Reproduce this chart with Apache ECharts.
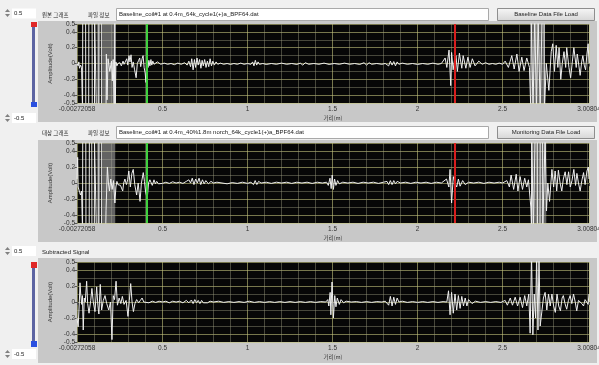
<!DOCTYPE html>
<html><head><meta charset="utf-8">
<script src="https://cdn.jsdelivr.net/npm/echarts@6/dist/echarts.min.js"></script>
<style>html,body{margin:0;padding:0;background:#f0f0f0}#c{width:599px;height:365px}</style>
</head><body><div id="c"></div><script>
// ---------- data ----------
const xTickValues = [-0.00272058, 0.5, 1, 1.5, 2, 2.5, 3.00804];
const xTickLabels = ['-0.00272058', '0.5', '1', '1.5', '2', '2.5', '3.00804'];
const xMinorValues = [0.1,0.2,0.3,0.4,0.6,0.7,0.8,0.9,1.1,1.2,1.3,1.4,1.6,1.7,1.8,1.9,2.1,2.2,2.3,2.4,2.6,2.7,2.8,2.9,3.0];
const yTickValues = [-0.5, -0.4, -0.2, 0, 0.2, 0.4, 0.5];
const yTickLabels = ['-0.5', '-0.4', '-0.2', '0', '0.2', '0.4', '0.5'];
const yMinorValues = [-0.3, -0.1, 0.1, 0.3];
const cursorX = [0.415, 2.22];
const baselineBands = [[0.113, 0.132], [0.14, 0.222], [2.672, 2.748]];
const monitoringBands = [[0.113, 0.132], [0.14, 0.222], [2.668, 2.757]];

const baselineSignal = [
[-0.0027,0],[0.004,-0.03],[0.008,0.02],[0.012,-0.06],[0.018,-0.02],[0.024,-0.05],
[0.03,-0.6],[0.031,0.6],[0.048,0.6],[0.049,-0.6],[0.066,-0.6],[0.067,0.6],[0.086,0.6],[0.087,-0.6],
[0.1,-0.6],[0.101,0.6],[0.11,0.6],[0.111,-0.6],[0.125,-0.6],[0.126,0.6],[0.14,0.6],[0.141,-0.6],
[0.168,-0.6],[0.17,0.12],[0.174,-0.46],[0.18,0.06],[0.19,-0.1],[0.2,0.03],[0.205,-0.22],[0.21,0.05],
[0.216,-0.6],[0.22,0.6],[0.222,-0.6],[0.226,0.02],[0.232,-0.03],[0.238,0.0],
[0.244,-0.02],[0.25,0.01],[0.258,-0.03],[0.268,0.03],[0.274,-0.01],[0.281,0.02],[0.29,0.06],[0.296,-0.02],
[0.303,0.1],[0.309,0.02],[0.315,0.11],[0.321,-0.05],[0.328,0.02],[0.336,-0.08],[0.345,-0.18],[0.352,0.0],
[0.36,0.04],[0.366,0.07],[0.372,-0.04],[0.38,0.06],[0.386,0.1],[0.392,-0.05],[0.398,-0.12],[0.403,-0.24],
[0.409,0.05],[0.415,-0.05],[0.42,0.04],[0.426,-0.03],[0.432,0.05],[0.437,-0.02],[0.443,0.03],[0.45,-0.01],
[0.46,0.01],[0.47,0.02],[0.475,0.045],[0.48,0.0],[0.49,-0.01],[0.51,0.005],[0.53,-0.01],[0.55,0.0],
[0.57,-0.015],[0.59,0.005],[0.61,-0.01],[0.63,0.01],[0.645,-0.02],[0.655,0.03],[0.665,-0.04],[0.672,0.06],
[0.68,-0.08],[0.688,0.05],[0.695,-0.05],[0.703,0.07],[0.71,-0.02],[0.718,0.05],[0.726,-0.06],[0.733,0.04],
[0.74,-0.03],[0.748,0.05],[0.756,-0.05],[0.764,0.03],[0.772,-0.04],[0.78,0.06],[0.788,-0.03],[0.796,0.03],
[0.805,-0.02],[0.815,0.02],[0.825,-0.01],[0.84,0.005],[0.86,-0.01],[0.88,0.0],[0.9,-0.012],[0.92,0.0],
[0.94,-0.01],[0.96,0.005],[0.98,-0.01],[1.0,0.0],[1.02,-0.01],[1.03,0.02],[1.038,-0.03],[1.046,0.04],
[1.054,-0.02],[1.062,0.02],[1.07,-0.01],[1.09,0.0],[1.11,-0.012],[1.14,0.0],[1.17,-0.01],[1.2,0.005],
[1.23,-0.01],[1.26,0.0],[1.29,-0.012],[1.31,0.005],[1.325,-0.02],[1.34,0.01],[1.36,-0.01],[1.39,0.0],
[1.42,-0.01],[1.45,0.005],[1.48,-0.012],[1.51,0.0],[1.54,-0.01],[1.57,0.005],[1.6,-0.01],[1.63,0.0],
[1.66,-0.012],[1.685,0.01],[1.7,-0.02],[1.715,0.01],[1.73,-0.01],[1.76,0.0],[1.79,-0.01],[1.81,0.0],
[1.82,0.02],[1.83,-0.03],[1.84,0.03],[1.85,-0.02],[1.86,0.025],[1.87,-0.03],[1.88,0.02],[1.89,-0.01],
[1.91,0.005],[1.94,-0.01],[1.97,0.0],[2.0,-0.012],[2.03,0.0],[2.06,-0.01],[2.09,0.005],[2.12,-0.01],[2.14,0.0],
[2.15,0.0],[2.162,0.07],[2.172,-0.05],[2.185,0.17],[2.195,-0.28],[2.2,0.14],[2.209,-0.08],[2.217,0.04],
[2.226,0.1],[2.234,-0.1],[2.246,0.13],[2.26,-0.06],[2.268,0.1],[2.284,-0.06],[2.296,0.08],[2.309,-0.05],
[2.322,0.06],[2.338,-0.03],[2.36,0.03],[2.38,-0.01],[2.4,0.01],[2.42,-0.01],[2.44,0.0],[2.46,-0.01],
[2.48,0.005],[2.5,-0.01],[2.515,0.03],[2.534,-0.05],[2.554,0.1],[2.568,-0.07],[2.584,0.12],[2.597,-0.1],
[2.613,0.08],[2.626,-0.09],[2.642,0.07],[2.658,-0.05],
[2.666,-0.6],[2.668,0.6],[2.678,0.6],[2.679,-0.6],[2.688,-0.6],[2.689,0.6],[2.698,0.6],[2.699,-0.6],
[2.708,-0.6],[2.709,0.6],[2.72,0.6],[2.721,-0.6],[2.731,-0.6],[2.732,0.6],[2.744,0.6],[2.746,-0.6],
[2.757,0.0],[2.772,-0.34],[2.786,0.15],[2.795,0.25],[2.805,-0.1],[2.815,0.23],[2.825,-0.05],[2.832,0.2],
[2.842,-0.2],[2.851,0.0],[2.861,0.15],[2.871,-0.05],[2.877,0.2],[2.89,-0.05],[2.9,-0.18],[2.91,0.02],
[2.919,0.2],[2.933,-0.05],[2.939,0.12],[2.948,-0.02],[2.956,-0.15],[2.965,0.02],[2.972,0.1],[2.98,-0.02],
[2.988,-0.08],[2.996,0.12],[3.003,0.25],[3.008,0.0]
];

const monitoringSignal = [
[-0.0027,0.05],[0.001,0.32],[0.004,-0.05],[0.008,-0.04],[0.013,-0.12],[0.018,-0.15],[0.024,-0.1],
[0.03,-0.6],[0.031,0.6],[0.049,0.6],[0.05,-0.6],[0.069,-0.6],[0.07,0.6],[0.084,0.6],[0.085,-0.6],
[0.099,-0.6],[0.1,0.6],[0.11,0.6],[0.111,-0.6],[0.125,-0.6],[0.126,0.6],[0.14,0.6],[0.141,-0.6],
[0.166,-0.6],[0.168,-0.34],[0.176,0.2],[0.182,0.0],[0.188,-0.1],[0.196,0.05],[0.204,-0.08],[0.212,0.03],
[0.22,-0.25],[0.226,-0.05],[0.232,0.02],[0.238,-0.02],[0.243,0.0],[0.253,-0.03],[0.266,-0.1],[0.272,0.0],
[0.279,0.05],[0.288,-0.02],[0.295,0.04],[0.302,0.15],[0.311,-0.05],[0.32,0.12],[0.328,0.17],[0.337,-0.02],
[0.348,-0.15],[0.357,0.0],[0.368,-0.23],[0.376,0.0],[0.387,0.13],[0.394,0.02],[0.4,-0.1],[0.41,-0.2],
[0.418,0.0],[0.426,0.04],[0.432,0.05],[0.44,-0.03],[0.45,0.04],[0.458,-0.01],[0.466,0.02],[0.476,-0.01],
[0.486,0.01],[0.5,-0.005],[0.52,0.01],[0.54,-0.005],[0.56,0.015],[0.58,0.0],[0.6,0.01],[0.62,-0.005],
[0.64,0.02],[0.655,0.04],[0.665,0.0],[0.675,0.06],[0.685,-0.02],[0.695,0.05],[0.705,0.0],[0.715,0.06],
[0.725,-0.02],[0.735,0.04],[0.745,-0.01],[0.755,0.03],[0.77,-0.01],[0.785,0.02],[0.8,0.0],[0.82,0.01],
[0.85,0.0],[0.88,-0.01],[0.91,0.005],[0.94,-0.005],[0.97,0.01],[1.0,-0.005],[1.02,0.01],[1.035,-0.02],
[1.045,0.03],[1.055,-0.02],[1.065,0.02],[1.08,0.0],[1.11,0.01],[1.14,-0.005],[1.17,0.01],[1.2,0.0],
[1.23,0.01],[1.26,-0.005],[1.29,0.01],[1.32,0.0],[1.35,0.01],[1.38,-0.005],[1.41,0.01],[1.44,0.0],
[1.465,0.01],[1.475,-0.03],[1.485,0.06],[1.492,-0.07],[1.498,0.1],[1.505,-0.08],[1.512,0.05],[1.52,-0.03],
[1.53,0.03],[1.54,-0.01],[1.56,0.01],[1.59,0.0],[1.62,0.01],[1.65,-0.005],[1.68,0.01],[1.71,0.0],
[1.74,0.01],[1.77,-0.005],[1.8,0.01],[1.82,0.02],[1.83,-0.02],[1.84,0.03],[1.85,-0.02],[1.86,0.03],
[1.87,-0.01],[1.88,0.02],[1.9,0.0],[1.93,0.01],[1.96,-0.005],[1.99,0.01],[2.02,0.0],[2.05,0.01],
[2.08,-0.005],[2.11,0.01],[2.14,0.0],[2.15,0.0],[2.17,0.05],[2.184,-0.05],[2.191,0.17],[2.2,-0.25],
[2.21,0.08],[2.22,0.0],[2.23,-0.05],[2.24,0.05],[2.25,-0.04],[2.265,0.03],[2.28,-0.02],[2.3,0.01],
[2.33,0.0],[2.36,0.01],[2.39,-0.005],[2.42,0.01],[2.45,0.0],[2.48,0.01],[2.5,0.0],[2.525,0.03],
[2.54,-0.05],[2.55,0.1],[2.565,-0.08],[2.58,0.11],[2.59,-0.1],[2.603,0.08],[2.617,-0.08],[2.63,0.06],
[2.642,-0.05],[2.652,0.04],[2.666,-0.3],
[2.67,-0.6],[2.671,0.6],[2.68,0.6],[2.681,-0.6],[2.69,-0.6],[2.691,0.6],[2.704,0.6],[2.705,-0.6],
[2.72,-0.6],[2.721,0.6],[2.735,0.6],[2.736,-0.6],[2.745,-0.6],[2.75,0.6],[2.758,-0.35],[2.766,0.0],
[2.776,-0.23],[2.79,0.17],[2.8,-0.05],[2.809,0.15],[2.818,-0.1],[2.828,0.16],[2.838,0.0],[2.848,-0.1],
[2.857,0.05],[2.868,0.14],[2.878,-0.02],[2.888,0.14],[2.898,-0.05],[2.908,0.03],[2.919,0.17],[2.929,-0.03],
[2.937,0.12],[2.946,0.0],[2.956,-0.1],[2.966,0.03],[2.976,0.13],[2.985,-0.02],[2.996,0.15],[3.004,0.2],[3.008,0.05]
];

const subtractedSignal = [
[-0.0027,-0.2],[0.004,-0.31],[0.011,0.0],[0.015,0.24],[0.019,0.1],[0.025,-0.03],[0.029,0.08],[0.034,-0.35],
[0.04,0.05],[0.046,0.0],[0.054,0.26],[0.06,-0.02],[0.068,-0.14],[0.078,0.02],[0.085,0.17],[0.093,0.0],
[0.103,-0.12],[0.113,0.19],[0.12,-0.04],[0.126,-0.15],[0.134,0.22],[0.142,-0.1],[0.152,0.02],[0.162,0.08],
[0.172,-0.02],[0.184,-0.1],[0.194,0.0],[0.203,-0.47],[0.21,0.08],[0.218,0.03],[0.227,0.26],[0.235,-0.04],
[0.245,0.05],[0.255,-0.02],[0.264,0.07],[0.274,-0.03],[0.286,0.02],[0.297,-0.18],[0.305,0.02],[0.313,0.23],
[0.321,0.0],[0.329,-0.12],[0.338,-0.02],[0.348,0.03],[0.36,-0.01],[0.37,0.02],[0.38,0.05],[0.39,0.0],
[0.4,0.02],[0.42,-0.01],[0.44,0.01],[0.46,-0.005],[0.48,0.01],[0.5,0.0],[0.52,0.01],[0.54,-0.01],
[0.56,0.01],[0.58,0.0],[0.6,0.01],[0.62,-0.01],[0.64,0.02],[0.655,-0.01],[0.67,0.025],[0.68,-0.02],
[0.69,0.03],[0.7,-0.01],[0.71,0.02],[0.72,-0.02],[0.73,0.02],[0.74,-0.01],[0.75,0.015],[0.765,-0.01],
[0.78,0.01],[0.8,0.0],[0.83,0.01],[0.86,-0.005],[0.89,0.005],[0.92,-0.005],[0.95,0.005],[0.98,-0.005],
[1.01,0.01],[1.04,-0.005],[1.07,0.005],[1.1,-0.005],[1.13,0.005],[1.16,-0.005],[1.19,0.005],[1.22,-0.005],
[1.25,0.005],[1.28,-0.005],[1.31,0.005],[1.34,-0.005],[1.37,0.005],[1.4,-0.005],[1.43,0.005],[1.46,0.0],
[1.472,0.03],[1.478,-0.05],[1.486,0.12],[1.49,-0.16],[1.497,0.25],[1.505,-0.2],[1.513,0.08],[1.52,-0.06],
[1.528,0.05],[1.54,-0.03],[1.55,0.03],[1.565,-0.01],[1.58,0.01],[1.61,0.0],[1.64,0.005],[1.67,-0.005],
[1.7,0.005],[1.73,-0.005],[1.76,0.005],[1.79,0.0],[1.81,0.01],[1.819,0.02],[1.83,-0.04],[1.84,0.07],
[1.85,-0.05],[1.86,0.06],[1.87,-0.03],[1.88,0.05],[1.89,0.0],[1.91,0.01],[1.94,-0.005],[1.97,0.005],
[2.0,-0.005],[2.03,0.005],[2.06,-0.005],[2.09,0.005],[2.12,-0.005],[2.15,0.005],[2.172,0.0],[2.182,0.14],
[2.191,-0.16],[2.2,0.12],[2.21,-0.14],[2.22,0.1],[2.23,-0.1],[2.24,0.08],[2.25,-0.08],[2.26,0.07],
[2.27,-0.05],[2.28,0.05],[2.29,-0.05],[2.3,0.03],[2.32,-0.02],[2.34,0.01],[2.37,-0.005],[2.4,0.005],
[2.43,-0.005],[2.46,0.005],[2.49,-0.005],[2.515,0.02],[2.528,-0.04],[2.545,0.05],[2.558,-0.04],[2.574,0.06],
[2.588,-0.05],[2.603,0.06],[2.617,-0.07],[2.63,0.08],[2.642,-0.05],[2.654,0.1],[2.662,-0.39],[2.67,0.6],
[2.678,-0.41],[2.686,0.1],[2.694,-0.2],[2.7,0.6],[2.708,-0.35],[2.714,0.6],[2.721,-0.3],[2.73,-0.32],
[2.74,0.05],[2.75,0.12],[2.76,-0.1],[2.77,0.1],[2.78,-0.05],[2.79,0.1],[2.8,-0.05],[2.81,-0.13],
[2.82,0.1],[2.83,-0.05],[2.84,-0.11],[2.85,0.05],[2.857,0.08],[2.867,-0.02],[2.877,-0.09],[2.887,0.02],
[2.897,0.08],[2.907,-0.02],[2.917,0.1],[2.927,0.0],[2.936,-0.11],[2.946,0.02],[2.956,0.04],[2.966,-0.02],
[2.976,-0.05],[2.985,0.03],[2.995,0.05],[3.003,-0.03],[3.008,0.1]
];

// ---------- chart ----------
const LATIN = '"Liberation Sans", Arial, sans-serif';
const KR = '"Noto Sans CJK KR", sans-serif';
const majorGrid = 'rgba(195,195,125,0.6)';
const minorGrid = 'rgba(160,160,130,0.42)';
const gridTops = [24, 143, 262];
const gridHeights = [79, 80, 80];

function labelOf(values, labels) {
  return function (v) {
    const i = values.findIndex(t => Math.abs(t - v) < 1e-7);
    return i >= 0 ? labels[i] : '';
  };
}

const grids = [], xAxes = [], yAxes = [];
for (let i = 0; i < 3; i++) {
  grids.push({left: 77, top: gridTops[i], width: 512, height: gridHeights[i], show: true,
    backgroundColor: '#070707', borderWidth: 0, containLabel: false, outerBoundsMode: 'none'});
  xAxes.push({gridIndex: i, type: 'value', min: -0.00272058, max: 3.00804, position: 'bottom',
    axisLine: {show: false},
    axisTick: {show: true, customValues: xTickValues, length: 3, lineStyle: {color: '#555'}},
    axisLabel: {customValues: xTickValues, formatter: labelOf(xTickValues, xTickLabels), fontSize: 6.5,
      color: '#333', margin: 3, fontFamily: LATIN},
    splitLine: {show: true, lineStyle: {color: majorGrid, width: 1}},
    name: '거리(m)', nameLocation: 'middle', nameGap: 12,
    nameTextStyle: {fontSize: 5.5, color: '#333', fontFamily: KR}});
  xAxes.push({gridIndex: i, type: 'value', min: -0.00272058, max: 3.00804, position: 'top',
    axisLine: {show: false}, axisTick: {show: false, customValues: xMinorValues},
    axisLabel: {show: false, customValues: xMinorValues},
    splitLine: {show: true, lineStyle: {color: minorGrid, width: 1}}});
  yAxes.push({gridIndex: i, type: 'value', min: -0.5, max: 0.5, position: 'left',
    axisLine: {show: false},
    axisTick: {show: true, customValues: yTickValues, length: 3, lineStyle: {color: '#555'}},
    axisLabel: {customValues: yTickValues, formatter: labelOf(yTickValues, yTickLabels), fontSize: 6.5,
      color: '#333', margin: 2, fontFamily: LATIN},
    splitLine: {show: true, lineStyle: {color: majorGrid, width: 1}},
    name: 'Amplitude(Volt)', nameLocation: 'middle', nameGap: 18, nameRotate: 90,
    nameTextStyle: {fontSize: 6, color: '#333', fontFamily: LATIN}});
  yAxes.push({gridIndex: i, type: 'value', min: -0.5, max: 0.5, position: 'right',
    axisLine: {show: false}, axisTick: {show: false, customValues: yMinorValues},
    axisLabel: {show: false, customValues: yMinorValues},
    splitLine: {show: true, lineStyle: {color: minorGrid, width: 1}}});
}

const cursorColors = ['#3fd13f', '#d81e1e'];
function signalSeries(i, data, bands, cursors) {
  const s = {type: 'line', xAxisIndex: 2 * i, yAxisIndex: 2 * i, data: data, symbol: 'none',
    showSymbol: false, clip: true, silent: true, z: 3,
    lineStyle: {color: '#efefef', width: 1}};
  if (bands) s.markArea = {silent: true, itemStyle: {color: 'rgba(175,175,175,0.55)'},
    data: bands.map(b => [{xAxis: b[0]}, {xAxis: b[1]}])};
  if (cursors) s.markLine = {silent: true, symbol: ['none', 'none'], label: {show: false}, animation: false,
    data: cursors.map((x, k) => ({xAxis: x, lineStyle: {color: cursorColors[k], width: 2, type: 'solid'}}))};
  return s;
}

// ---------- UI chrome (decoration) ----------
const ui = [];
function rect(x, y, w, h, fill, stroke) {
  ui.push({type: 'rect', z: -5, shape: {x: x, y: y, width: w, height: h},
    style: {fill: fill, stroke: stroke || null, lineWidth: stroke ? 1 : 0}});
}
function txt(x, y, s, size, fam, align, color) {
  ui.push({type: 'text', z: 10, x: x, y: y,
    style: {text: s, fill: color || '#222', font: size + 'px ' + fam, align: align || 'left', verticalAlign: 'middle'}});
}
function spinner(x, y) {
  ui.push({type: 'polygon', z: 10, shape: {points: [[x, y + 3], [x + 2.5, y], [x + 5, y + 3]]}, style: {fill: '#808080'}});
  ui.push({type: 'polygon', z: 10, shape: {points: [[x, y + 5], [x + 2.5, y + 8], [x + 5, y + 5]]}, style: {fill: '#808080'}});
}
const btnFill = {type: 'linear', x: 0, y: 0, x2: 0, y2: 1,
  colorStops: [{offset: 0, color: '#f7f7f7'}, {offset: 1, color: '#d6d6d6'}]};

// panel frames
rect(38, 21, 559, 101, '#c8c8c8');
rect(38, 140, 559, 102, '#c8c8c8');
rect(38, 258, 559, 105, '#c8c8c8');
// headers
rect(116.5, 8.5, 372, 12, '#ffffff', '#a9a9a9');
rect(116.5, 126.5, 372, 12, '#ffffff', '#a9a9a9');
rect(497.5, 8.5, 97, 12, btnFill, '#8e8e8e');
rect(497.5, 126.5, 97, 12, btnFill, '#8e8e8e');
txt(42, 14.5, '원본 그래프', 5.5, KR);
txt(88, 14.5, '파일 정보', 5.5, KR);
txt(119, 14.5, 'Baseline_coil#1 at 0.4m_64k_cycle1(+)a_BPF64.dat', 6, LATIN);
txt(546, 14.5, 'Baseline Data File Load', 6, LATIN, 'center');
txt(42, 132.5, '대상 그래프', 5.5, KR);
txt(88, 132.5, '파일 정보', 5.5, KR);
txt(119, 132.5, 'Baseline_coil#1 at 0.4m_40%1.8m norch_64k_cycle1(+)a_BPF64.dat', 6, LATIN);
txt(546, 132.5, 'Monitoring Data File Load', 6, LATIN, 'center');
txt(42, 252, 'Subtracted Signal', 6, LATIN);
// left scale controls
rect(12, 8.5, 24, 10, '#ffffff');
spinner(5, 9);
txt(14, 13.5, '0.5', 6, LATIN);
rect(32, 24, 3, 82, '#5c64a2');
rect(31, 22, 6, 5, '#e02828');
rect(31, 102, 6, 5, '#2a50e0');
rect(12, 113, 24, 10, '#ffffff');
spinner(5, 114);
txt(14, 118, '-0.5', 6, LATIN);

rect(12, 246, 24, 10, '#ffffff');
spinner(5, 247);
txt(14, 251, '0.5', 6, LATIN);
rect(32, 264, 3, 80, '#5c64a2');
rect(31, 262, 6, 6, '#e02828');
rect(31, 341, 6, 6, '#2a50e0');
rect(12, 349, 24, 10, '#ffffff');
spinner(5, 350);
txt(14, 354, '-0.5', 6, LATIN);

const chart = echarts.init(document.getElementById('c'), null, {renderer: 'canvas'});
chart.setOption({
  animation: false,
  backgroundColor: '#f0f0f0',
  grid: grids,
  xAxis: xAxes,
  yAxis: yAxes,
  graphic: ui,
  series: [
    signalSeries(0, baselineSignal, baselineBands, cursorX),
    signalSeries(1, monitoringSignal, monitoringBands, cursorX),
    signalSeries(2, subtractedSignal, null, null)
  ]
});
</script></body></html>
